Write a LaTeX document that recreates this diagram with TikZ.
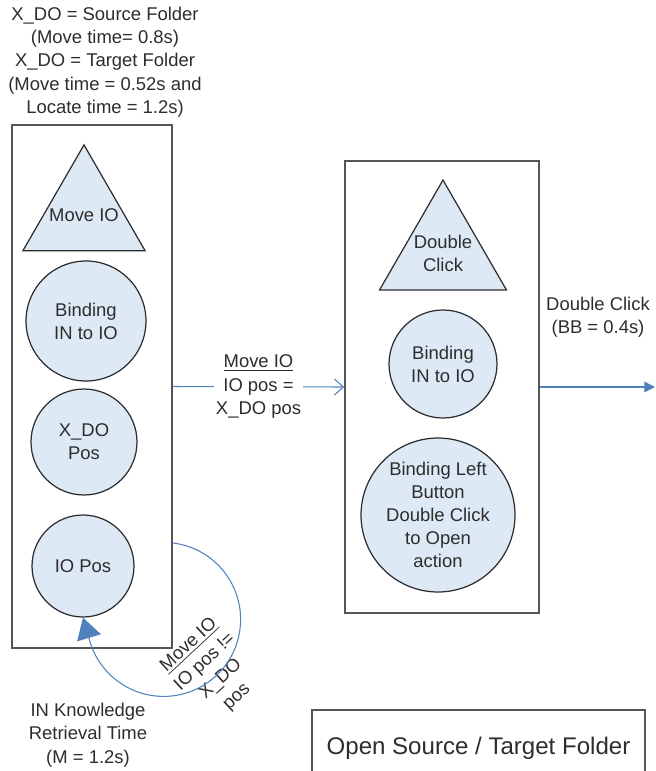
\documentclass[tikz,border=0pt]{standalone}
\usepackage{fontspec}
\setmainfont{Liberation Sans}
\usetikzlibrary{arrows.meta,positioning,shapes.geometric}
\definecolor{bubblefill}{RGB}{222,233,246}
\definecolor{linkblue}{RGB}{79,129,189}
\definecolor{inkgray}{RGB}{45,45,45}
\definecolor{framegray}{RGB}{85,85,85}

\begin{document}
\begin{tikzpicture}[
      x=0.02cm, y=-0.02cm,
      bubble/.style={
         circle,
         draw=inkgray,
         line width=0.7pt,
         fill=bubblefill,
         inner sep=0pt,
         align=center,
         text=inkgray,
         font=\fontsize{10.5}{13}\selectfont},
      mytri/.style={
         regular polygon,
         regular polygon sides=3,
         draw=inkgray,
         line width=0.7pt,
         fill=bubblefill,
         inner sep=0pt},
      mybox/.style={
         rectangle,
         draw=framegray,
         line width=1pt,
         inner sep=0pt},
      mytext/.style={
         align=center,
         text=inkgray,
         inner sep=1pt,
         font=\fontsize{10.5}{13.3}\selectfont},
      myarrow/.style={draw=linkblue, line width=0.6pt}
      ]
      \useasboundingbox (0,0) rectangle (656,771);
      % frames
      \node[mybox, minimum width=3.2cm, minimum height=10.46cm] (lbox) at (92,386.5) {};
      \node[mybox, minimum width=3.88cm, minimum height=9.04cm] (rbox) at (442,387) {};
      \node[mybox, minimum width=6.66cm, minimum height=1.52cm,
            font=\fontsize{13.7}{16}\selectfont, text=inkgray] (title) at (478.5,748) {Open Source / Target Folder};
      % left frame
      \node[mytri, minimum size=2.82cm, label={[mytext]center:Move IO}] (movetri) at (84,215.4) {};
      \node[bubble, minimum size=2.4cm] (bindio) at (86,321) {Binding\\IN to IO};
      \node[bubble, minimum size=2.12cm] (xdopos) at (84,442) {X\_DO\\Pos};
      \node[bubble, minimum size=2.04cm] (iopos) at (83,566) {IO Pos};
      % right frame
      \node[mytri, minimum size=2.93cm, label={[mytext]center:{Double\\Click}}] (clicktri) at (443,253.3) {};
      \node[bubble, minimum size=2.16cm] (bindio2) at (443,364) {Binding\\IN to IO};
      \node[bubble, minimum size=3.08cm] (bindleft) at (438,515) {Binding Left\\Button\\Double Click\\to Open\\action};
      % free texts
      \node[mytext] (srctxt) at (105,62) {X\_DO = Source Folder\\(Move time= 0.8s)\\X\_DO = Target Folder\\(Move time = 0.52s and\\Locate time = 1.2s)};
      \node[mytext] (retrtxt) at (88,735) {IN Knowledge\\Retrieval Time\\(M = 1.2s)};
      \node[mytext] (dbltxt) at (598,317) {Double Click\\(BB = 0.4s)};
      \node[mytext, rotate=43] (looptxt) at (213,671) {\underline{Move IO}\\IO pos !=\\X\_DO\\pos};
      \coordinate (loopstart) at (173,543);
      \coordinate (exitpt) at (655,387);
      % connectors
      \draw[myarrow, -{Straight Barb[length=5pt,width=9pt]}] (lbox.east) --
         node[mytext, fill=white] {\underline{Move IO}\\IO pos =\\X\_DO pos} (rbox.west);
      \draw[myarrow, -{Triangle[length=6pt,width=6pt]}] (rbox.east) -- (exitpt);
      \draw[myarrow, -{Triangle[length=12pt,width=14pt]}] (loopstart)
         arc[start angle=83, end angle=-168, radius=1.54cm] -- (iopos.south);
\end{tikzpicture}
\end{document}
